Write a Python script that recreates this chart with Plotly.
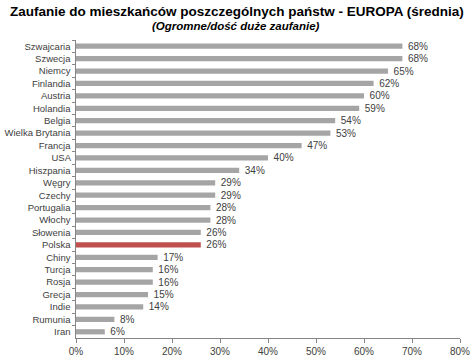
import plotly.graph_objects as go

countries = ["Szwajcaria", "Szwecja", "Niemcy", "Finlandia", "Austria", "Holandia", "Belgia",
             "Wielka Brytania", "Francja", "USA", "Hiszpania", "Węgry", "Czechy", "Portugalia",
             "Włochy", "Słowenia", "Polska", "Chiny", "Turcja", "Rosja", "Grecja", "Indie",
             "Rumunia", "Iran"]
values = [68, 68, 65, 62, 60, 59, 54, 53, 47, 40, 34, 29, 29, 28, 28, 26, 26, 17, 16, 16, 15, 14, 8, 6]
x_ticks = [0, 10, 20, 30, 40, 50, 60, 70, 80]
x_tick_labels = ["0%", "10%", "20%", "30%", "40%", "50%", "60%", "70%", "80%"]
highlight = "Polska"

colors = ["#c0504d" if c == highlight else "#a5a5a5" for c in countries]

W, H = 476, 361
ML, MR, MT, MB = 76, 16, 40, 23
PW, PH = W - ML - MR, H - MT - MB

fig = go.Figure(go.Bar(
    y=countries, x=values, orientation="h",
    marker=dict(color=colors, line=dict(width=0)),
    width=0.42,
    text=[f"  {v}%" for v in values], textposition="outside",
    textfont=dict(family="Liberation Sans, Arial", size=10, color="#404040"),
    constraintext="none",
    cliponaxis=False,
))

def px_x(x):
    return (x - ML) / PW

def px_y(y):
    return (H - MB - y) / PH

fig.update_layout(
    width=W, height=H,
    margin=dict(l=ML, r=MR, t=MT, b=MB, autoexpand=False),
    paper_bgcolor="white", plot_bgcolor="white",
    showlegend=False,
    font=dict(family="Liberation Sans, Arial", size=10, color="#404040"),
    annotations=[
        dict(text="<b>Zaufanie do mieszkańców poszczególnych państw - EUROPA (średnia)</b>",
             x=px_x(237), y=px_y(11), xref="paper", yref="paper", showarrow=False,
             font=dict(size=13.5, color="#000000", family="Liberation Sans, Arial"),
             xanchor="center", yanchor="middle"),
        dict(text="<b><i>(Ogromne/dość duże zaufanie)</i></b>",
             x=px_x(236), y=px_y(26), xref="paper", yref="paper", showarrow=False,
             font=dict(size=11.5, color="#000000", family="Liberation Sans, Arial"),
             xanchor="center", yanchor="middle"),
    ],
)

fig.update_xaxes(range=[0, 80], tickvals=x_ticks, ticktext=x_tick_labels,
                 showgrid=False, zeroline=False, showline=True, linecolor="#868686",
                 linewidth=1, ticks="outside", ticklen=4, tickcolor="#868686",
                 tickfont=dict(size=10, color="#404040"), fixedrange=True, automargin=False)
fig.update_yaxes(autorange="reversed", showgrid=False, showline=True, linecolor="#868686",
                 linewidth=1, ticks="outside", ticklen=3, tickcolor="#868686",
                 tickson="boundaries", tickfont=dict(size=9.5, color="#404040"),
                 ticksuffix=" ", fixedrange=True, automargin=False)

fig.write_html("out.html", config={"displayModeBar": False},
               post_script="document.body.style.margin='0';")
